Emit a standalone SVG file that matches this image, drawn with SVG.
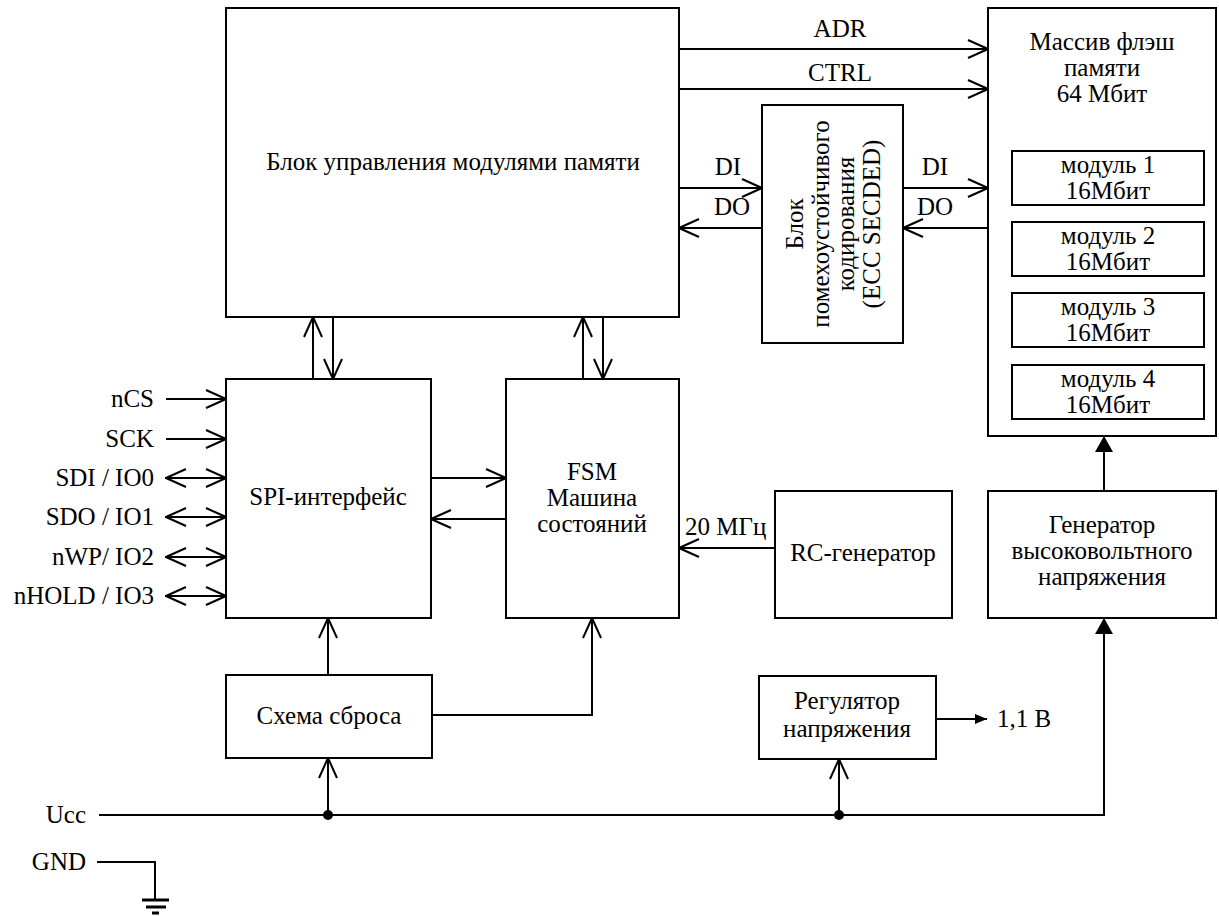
<svg xmlns="http://www.w3.org/2000/svg" width="1219" height="916" viewBox="0 0 1219 916">
<style>
.b{fill:#fff;stroke:#000;stroke-width:2}
.l{fill:none;stroke:#000;stroke-width:2}
text{font-family:"Liberation Serif","Times New Roman",serif;font-size:25px;fill:#000}
.m{text-anchor:middle}
.r{text-anchor:end}
</style>
<defs>
<marker id="a" viewBox="0 0 22 20" refX="21" refY="10" markerWidth="22" markerHeight="20" markerUnits="userSpaceOnUse" orient="auto-start-reverse"><path d="M1,1 L21,10 L1,19" fill="none" stroke="#000" stroke-width="2"/></marker>
<marker id="f" viewBox="0 0 16 18" refX="16" refY="9" markerWidth="16" markerHeight="18" markerUnits="userSpaceOnUse" orient="auto"><path d="M0,0 L16,9 L0,18Z" fill="#000"/></marker>
<marker id="s" viewBox="0 0 12 10" refX="12" refY="5" markerWidth="12" markerHeight="10" markerUnits="userSpaceOnUse" orient="auto"><path d="M0,0 L12,5 L0,10Z" fill="#000"/></marker>
</defs>
<rect width="1219" height="916" fill="#fff"/>
<g id="ctrl"><rect class="b" x="226" y="8" width="453" height="309"/><text class="m" x="453" y="170">Блок управления модулями памяти</text></g>
<g id="ecc"><rect class="b" x="762" y="105" width="141" height="238"/>
<g transform="translate(803,224) rotate(-90)"><text class="m" x="0" y="0">Блок</text><text class="m" x="0" y="25.5">помехоустойчивого</text><text class="m" x="0" y="51">кодирования</text><text class="m" x="0" y="76.5">(ECC SECDED)</text></g></g>
<g id="flash"><rect class="b" x="988" y="8" width="228" height="428"/>
<text class="m" x="1102" y="50">Массив флэш</text><text class="m" x="1102" y="76">памяти</text><text class="m" x="1102" y="102">64 Мбит</text></g>
<g id="mod1"><rect class="b" x="1012" y="151" width="192" height="54"/><text class="m" x="1108" y="173">модуль 1</text><text class="m" x="1108" y="199">16Мбит</text></g>
<g id="mod2"><rect class="b" x="1012" y="222" width="192" height="54"/><text class="m" x="1108" y="244">модуль 2</text><text class="m" x="1108" y="270">16Мбит</text></g>
<g id="mod3"><rect class="b" x="1012" y="293" width="192" height="54"/><text class="m" x="1108" y="315">модуль 3</text><text class="m" x="1108" y="341">16Мбит</text></g>
<g id="mod4"><rect class="b" x="1012" y="365" width="192" height="54"/><text class="m" x="1108" y="387">модуль 4</text><text class="m" x="1108" y="413">16Мбит</text></g>
<g id="spi"><rect class="b" x="226" y="379" width="205" height="239"/><text class="m" x="328" y="505">SPI-интерфейс</text></g>
<g id="fsm"><rect class="b" x="506" y="379" width="173" height="239"/><text class="m" x="592" y="480">FSM</text><text class="m" x="592" y="506">Машина</text><text class="m" x="592" y="532">состояний</text></g>
<g id="rc"><rect class="b" x="775" y="491" width="177" height="127"/><text class="m" x="863" y="561">RC-генератор</text></g>
<g id="hv"><rect class="b" x="988" y="491" width="228" height="127"/><text class="m" x="1102" y="533">Генератор</text><text class="m" x="1102" y="559">высоковольтного</text><text class="m" x="1102" y="585">напряжения</text></g>
<g id="reset"><rect class="b" x="226" y="675" width="206" height="83"/><text class="m" x="329" y="724">Схема сброса</text></g>
<g id="reg"><rect class="b" x="759" y="676" width="177" height="83"/><text class="m" x="847" y="709">Регулятор</text><text class="m" x="847" y="737">напряжения</text></g>
<g id="labels">
<text class="m" x="840" y="37">ADR</text><text class="m" x="840" y="81">CTRL</text>
<text class="m" x="728" y="175">DI</text><text class="m" x="732" y="215">DO</text>
<text class="m" x="935" y="175">DI</text><text class="m" x="935" y="215">DO</text>
<text x="685" y="535">20 МГц</text>
<text x="997" y="727">1,1 В</text>
<text class="r" x="154" y="407">nCS</text><text class="r" x="154" y="447">SCK</text><text class="r" x="154" y="486">SDI / IO0</text><text class="r" x="154" y="525">SDO / IO1</text><text class="r" x="154" y="565">nWP/ IO2</text><text class="r" x="154" y="604">nHOLD / IO3</text>
<text class="r" x="86" y="823">Ucc</text><text class="r" x="86" y="870">GND</text>
</g>
<g id="connectors">
<path class="l" d="M679,49H988" marker-end="url(#a)"/>
<path class="l" d="M679,89H988" marker-end="url(#a)"/>
<path class="l" d="M679,188H762" marker-end="url(#a)"/>
<path class="l" d="M762,228H679" marker-end="url(#a)"/>
<path class="l" d="M903,188H988" marker-end="url(#a)"/>
<path class="l" d="M988,228H903" marker-end="url(#a)"/>
<path class="l" d="M313,379V317" marker-end="url(#a)"/>
<path class="l" d="M333,317V379" marker-end="url(#a)"/>
<path class="l" d="M583,379V317" marker-end="url(#a)"/>
<path class="l" d="M603,317V379" marker-end="url(#a)"/>
<path class="l" d="M166,399H226" marker-end="url(#a)"/>
<path class="l" d="M166,439H226" marker-end="url(#a)"/>
<path class="l" d="M166,478H226" marker-start="url(#a)" marker-end="url(#a)"/>
<path class="l" d="M166,517H226" marker-start="url(#a)" marker-end="url(#a)"/>
<path class="l" d="M166,557H226" marker-start="url(#a)" marker-end="url(#a)"/>
<path class="l" d="M166,596H226" marker-start="url(#a)" marker-end="url(#a)"/>
<path class="l" d="M431,478H506" marker-end="url(#a)"/>
<path class="l" d="M506,519H431" marker-end="url(#a)"/>
<path class="l" d="M775,548H679" marker-end="url(#a)"/>
<path class="l" d="M328,675V618" marker-end="url(#a)"/>
<path class="l" d="M432,715H592V618" marker-end="url(#a)"/>
<path class="l" d="M328,815V758" marker-end="url(#a)"/>
<path class="l" d="M839,815V759" marker-end="url(#a)"/>
<path class="l" d="M99,815H1104V618" marker-end="url(#f)"/>
<path class="l" d="M1104,491V436" marker-end="url(#f)"/>
<path class="l" d="M936,719H987" marker-end="url(#s)"/>
<circle cx="328" cy="815" r="5"/><circle cx="839" cy="815" r="5"/>
<path class="l" d="M97,862H155V900"/>
<path d="M142,900H169M146,907H166M152,913H159" fill="none" stroke="#000" stroke-width="3"/>
</g>
</svg>
